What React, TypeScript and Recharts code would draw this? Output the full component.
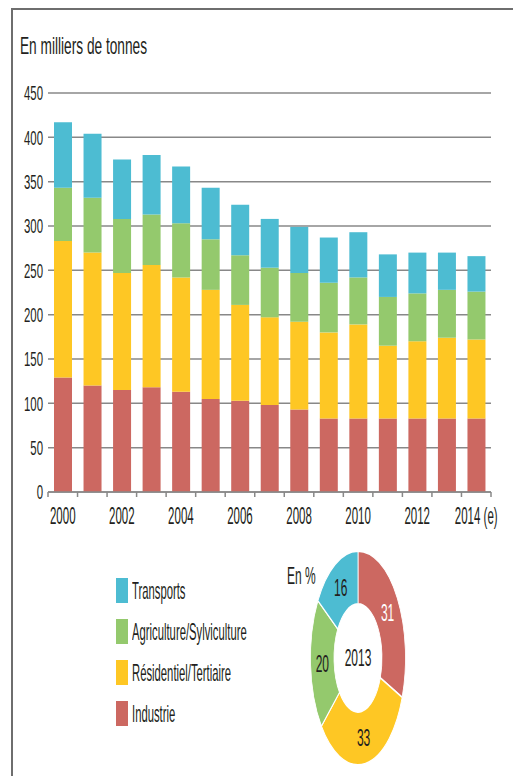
import React from 'react';
import { BarChart, Bar, XAxis, YAxis, CartesianGrid, PieChart, Pie, Cell } from 'recharts';

const years = ['2000', '2001', '2002', '2003', '2004', '2005', '2006', '2007', '2008', '2009', '2010', '2011', '2012', '2013', '2014'];
const yearLabels = ['2000', '', '2002', '', '2004', '', '2006', '', '2008', '', '2010', '', '2012', '', '2014 (e)'];

const industrie = [129, 120, 115, 118, 113, 105, 103, 98, 93, 83, 83, 83, 83, 83, 83];
const residentiel = [154, 150, 132, 138, 129, 123, 108, 99, 99, 97, 106, 82, 87, 91, 89];
const agriculture = [60, 62, 61, 57, 61, 57, 56, 56, 55, 56, 53, 55, 54, 54, 54];
const transports = [74, 72, 67, 67, 64, 58, 57, 55, 52, 51, 51, 48, 46, 42, 40];

const yTicks = [0, 50, 100, 150, 200, 250, 300, 350, 400, 450];

const series = [
  { key: 'industrie', name: 'Industrie', color: '#cc6861' },
  { key: 'residentiel', name: 'Résidentiel/Tertiaire', color: '#fec724' },
  { key: 'agriculture', name: 'Agriculture/Sylviculture', color: '#94c96d' },
  { key: 'transports', name: 'Transports', color: '#4dbcd2' },
];

const pieYear = '2013';
const pieNames = ['Industrie', 'Résidentiel/Tertiaire', 'Agriculture/Sylviculture', 'Transports'];
const pieValues = [31, 33, 20, 16];
const pieTextColors = ['#ffffff', '#231f20', '#231f20', '#231f20'];

const data = years.map((y, i) => ({
  year: y,
  industrie: industrie[i],
  residentiel: residentiel[i],
  agriculture: agriculture[i],
  transports: transports[i],
}));

const pieData = pieNames.map((n, i) => ({ name: n, value: pieValues[i] }));

const FONT = "'Liberation Sans', Arial, sans-serif";
const INK = '#231f20';
const GRID = '#888888';
const PIE_SY = 2.25;
const BAND = 443 / 15;

// the source is stretched vertically, so text gets squeezed on x
const YTick = (props: any) => {
  const { x, y, payload } = props;
  return (
    <text
      transform={`translate(${x} ${y}) scale(0.57 1)`}
      textAnchor="end"
      dy="0.36em"
      fontSize={20}
      fontFamily={FONT}
      fill={INK}
    >
      {payload.value}
    </text>
  );
};

const XTick = (props: any) => {
  const { x, y, index } = props;
  const left = x - BAND / 2;
  return (
    <g>
      <line x1={left} y1={y} x2={left} y2={y + 5} stroke={GRID} strokeWidth={1.5} />
      {index === years.length - 1 && (
        <line x1={x + BAND / 2} y1={y} x2={x + BAND / 2} y2={y + 5} stroke={GRID} strokeWidth={1.5} />
      )}
      {yearLabels[index] && (
        <text
          transform={`translate(${x} ${y + 32}) scale(0.5 1)`}
          textAnchor="middle"
          fontSize={23}
          fontFamily={FONT}
          fill={INK}
        >
          {yearLabels[index]}
        </text>
      )}
    </g>
  );
};

const RAD = Math.PI / 180;
const pieLabel = (props: any) => {
  const { cx, cy, midAngle, innerRadius, outerRadius, index } = props;
  const r = (innerRadius + outerRadius) / 2;
  const x = cx + r * Math.cos(-midAngle * RAD);
  const y = cy + r * Math.sin(-midAngle * RAD);
  return (
    <text
      transform={`translate(${x} ${y}) scale(0.5 ${1 / PIE_SY})`}
      textAnchor="middle"
      dy="0.36em"
      fontSize={24}
      fontFamily={FONT}
      fill={pieTextColors[index]}
    >
      {pieValues[index]}
    </text>
  );
};

const squish = (sx: number): React.CSSProperties => ({
  display: 'inline-block',
  transform: `scaleX(${sx})`,
  transformOrigin: 'left center',
  whiteSpace: 'nowrap',
});

export default function App() {
  return (
    <div style={{ position: 'absolute', left: 0, top: 0, width: 513, height: 776, background: '#fff', overflow: 'hidden', fontFamily: FONT, color: INK }}>
      <div style={{ position: 'absolute', left: 11, top: 8, right: 0, bottom: 0, borderTop: `2px solid #6e6e6e`, borderLeft: `2px solid #6e6e6e` }} />

      <div style={{ position: 'absolute', left: 20, top: 34, fontSize: 24, lineHeight: '24px' }}>
        <span style={squish(0.57)}>En milliers de tonnes</span>
      </div>

      <div style={{ position: 'absolute', left: 0, top: 0 }}>
        <BarChart width={513} height={540} data={data} margin={{ top: 93, right: 22, left: 0, bottom: 7 }} barSize={18}>
          <CartesianGrid vertical={false} stroke={GRID} strokeWidth={1.5} />
          <XAxis
            dataKey="year"
            interval={0}
            height={41}
            tickLine={false}
            tickSize={0}
            tickMargin={0}
            axisLine={{ stroke: GRID, strokeWidth: 1.5 }}
            tick={<XTick />}
          />
          <YAxis
            domain={[0, 450]}
            ticks={yTicks}
            width={48}
            axisLine={false}
            tickLine={false}
            tickSize={0}
            tickMargin={5}
            tick={<YTick />}
          />
          {series.map((s) => (
            <Bar key={s.key} dataKey={s.key} name={s.name} stackId="a" fill={s.color} isAnimationActive={false} />
          ))}
        </BarChart>
      </div>

      <div style={{ position: 'absolute', left: 116, top: 570 }}>
        {[...series].reverse().map((s) => (
          <div key={s.key} style={{ display: 'flex', alignItems: 'center', height: 41 }}>
            <div style={{ width: 12, height: 25, background: s.color, marginRight: 4 }} />
            <span style={{ ...squish(0.47), fontSize: 24, lineHeight: '24px' }}>{s.name}</span>
          </div>
        ))}
      </div>

      <div style={{ position: 'absolute', left: 287, top: 564, fontSize: 24, lineHeight: '24px' }}>
        <span style={squish(0.5)}>En %</span>
      </div>

      <div style={{ position: 'absolute', left: 298, top: 598, width: 120, height: 120, transform: `scaleY(${PIE_SY})`, transformOrigin: 'center center' }}>
        <PieChart width={120} height={120} margin={{ top: 0, right: 0, bottom: 0, left: 0 }}>
          <Pie
            data={pieData}
            dataKey="value"
            cx={60}
            cy={60}
            innerRadius={24}
            outerRadius={47.5}
            startAngle={90}
            endAngle={-270}
            stroke="#ffffff"
            strokeWidth={0.8}
            label={pieLabel}
            labelLine={false}
            isAnimationActive={false}
          >
            {pieData.map((d, i) => (
              <Cell key={d.name} fill={series[i].color} />
            ))}
          </Pie>
        </PieChart>
      </div>

      <div style={{ position: 'absolute', left: 358, top: 658, transform: 'translate(-50%, -50%) scaleX(0.5)', fontSize: 24, lineHeight: '24px' }}>
        {pieYear}
      </div>
    </div>
  );
}
